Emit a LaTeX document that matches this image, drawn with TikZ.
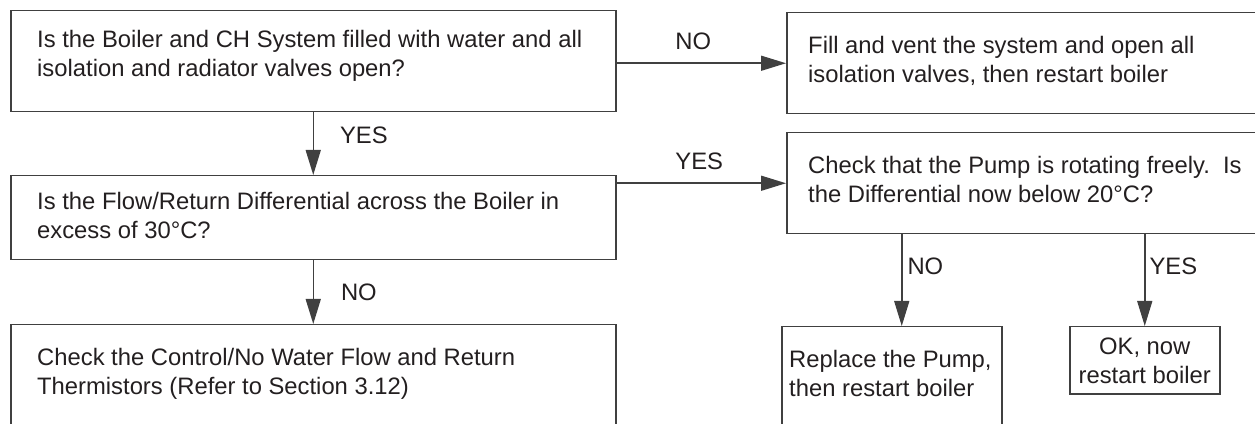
\documentclass[tikz,border=0pt]{standalone}
\usepackage{fontspec}
\setmainfont{Liberation Sans}
\usetikzlibrary{arrows.meta, positioning}
\definecolor{inkgray}{HTML}{231F20}
\definecolor{linegray}{HTML}{404040}

\begin{document}
\begin{tikzpicture}[
  x=1pt, y=1pt,
  frame/.style={rectangle, draw=linegray, line width=1.5pt, anchor=north west, inner sep=0pt},
  txt/.style={anchor=north west, align=left, inner sep=0pt, text=inkgray, font=\fontsize{23.8}{29}\selectfont},
  lbl/.style={inner sep=0pt, text=inkgray, font=\fontsize{23.8}{29}\selectfont},
  arrow/.style={-{Triangle[length=25pt, width=15pt]}, draw=linegray, line width=1.5pt}
]
\clip (0,0) rectangle (1255,423);

% question boxes on the left
\node (filled) [frame, minimum width=605pt, minimum height=101pt] at (10,413) {};
\node (diff) [frame, minimum width=605pt, minimum height=84pt] at (10,248) {};
\node (thermchk) [frame, minimum width=605pt, minimum height=110pt] at (10,99) {};

% actions on the right (boxes run off the page edge)
\node (fillvent) [frame, minimum width=480pt, minimum height=101pt] at (786,411) {};
\node (pumpchk) [frame, minimum width=480pt, minimum height=101pt] at (786,291) {};
\node (replace) [frame, minimum width=220pt, minimum height=110pt] at (781,97) {};
\node (okrestart) [frame, minimum width=150pt, minimum height=67pt] at (1069,97) {};

% texts
\node (filledtxt) [txt] at ([shift={(27,-20)}]filled.north west) {Is the Boiler and CH System filled with water and all\\isolation and radiator valves open?};
\node (difftxt) [txt] at ([shift={(27,-17)}]diff.north west) {Is the Flow/Return Differential across the Boiler in\\excess of 30°C?};
\node (thermtxt) [txt] at ([shift={(27,-24)}]thermchk.north west) {Check the Control/No Water Flow and Return\\Thermistors (Refer to Section 3.12)};
\node (filltxt) [txt] at ([shift={(22,-24)}]fillvent.north west) {Fill and vent the system and open all\\isolation valves, then restart boiler};
\node (pumptxt) [txt] at ([shift={(22,-24)}]pumpchk.north west) {Check that the Pump is rotating freely.\ \ Is\\the Differential now below 20°C?};
\node (replacetxt) [txt] at ([shift={(8,-24)}]replace.north west) {Replace the Pump,\\then restart boiler};
\node (oktxt) [txt, anchor=north, align=center] at ([yshift=-12]okrestart.north) {OK, now\\restart boiler};

% connectors
\draw [arrow] (filled.south) -- node[lbl, anchor=west, xshift=26pt, yshift=8pt] (yes1) {YES} (diff.north);
\draw [arrow] (diff.south) -- node[lbl, anchor=west, xshift=27pt] (no2) {NO} (thermchk.north);
\draw [arrow] (filled.east |- fillvent.west) -- node[lbl, above=13pt, xshift=-8pt] (no1) {NO} (fillvent.west);
\draw [arrow] (diff.east |- pumpchk.west) -- node[lbl, above=13pt, xshift=-2pt] (yes2) {YES} (pumpchk.west);
\draw [arrow] ([xshift=10pt]replace.north |- pumpchk.south) -- node[lbl, anchor=west, xshift=5pt, yshift=14pt] (no3) {NO} ([xshift=10pt]replace.north);
\draw [arrow] (okrestart.north |- pumpchk.south) -- node[lbl, anchor=west, xshift=4pt, yshift=14pt] (yes3) {YES} (okrestart.north);

\end{tikzpicture}
\end{document}
